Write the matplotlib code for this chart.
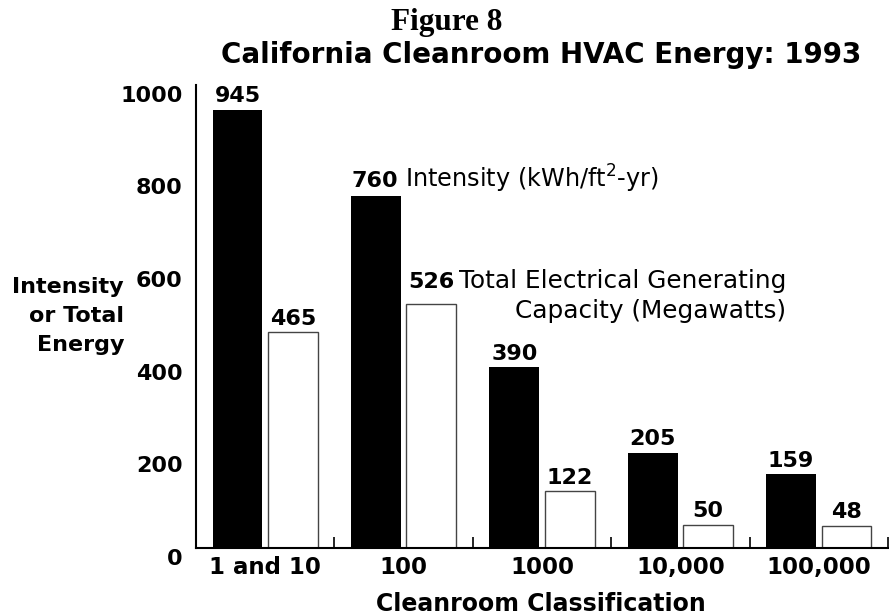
import matplotlib
matplotlib.use("Agg")
import matplotlib.pyplot as plt
import matplotlib.transforms as mtransforms
import numpy as np

categories = ["1 and 10", "100", "1000", "10,000", "100,000"]
intensity = [945, 760, 390, 205, 159]
capacity = [465, 526, 122, 50, 48]
yticks = [0, 200, 400, 600, 800, 1000]
name_intensity = "Intensity (kWh/ft$^{2}$-yr)"
name_capacity = "Total Electrical Generating\nCapacity (Megawatts)"

plt.rcParams['font.family'] = ['DejaVu Sans']

W, H = 889, 616
fig = plt.figure(figsize=(W / 100, H / 100), dpi=100)
ax = fig.add_axes([196 / W, 1 - 548 / H, 692 / W, (548 - 84.5) / H])

x = np.arange(len(categories))
w = 0.36
ax.bar(x + 0.30, intensity, w, color='black', edgecolor='black', linewidth=0)
ax.bar(x + 0.70, capacity, w, color='white', edgecolor='#444444', linewidth=1.0)
ax.set_xlim(0, len(categories))
ax.set_ylim(0, 1000)

for s in ['top', 'right']:
    ax.spines[s].set_visible(False)
for s in ['left', 'bottom']:
    ax.spines[s].set_linewidth(1.5)

ax.set_xticks(x + 0.5)
ax.set_xticklabels(categories, fontweight='bold', fontsize=16.5)
ax.tick_params(axis='x', which='major', length=0, pad=6)
ax.set_xticks(np.arange(1, len(categories) + 1), minor=True)
ax.tick_params(axis='x', which='minor', direction='in', length=8, width=1.2)

ax.set_yticks(yticks)
ax.set_yticklabels([str(t) for t in yticks], fontweight='bold', fontsize=16)
ax.tick_params(axis='y', length=0, pad=9.5)
off = mtransforms.ScaledTranslation(0, -9 / 100, fig.dpi_scale_trans)
for lbl in ax.get_yticklabels():
    lbl.set_transform(lbl.get_transform() + off)

# value labels
for i, v in enumerate(intensity):
    if i == 1:
        continue
    ax.annotate(str(v), (x[i] + 0.30, v), xytext=(0, 5.5), textcoords='offset points',
                ha='center', va='baseline', fontweight='bold', fontsize=16)
for i, v in enumerate(capacity):
    if i == 1:
        continue
    ax.annotate(str(v), (x[i] + 0.70, v), xytext=(0, 5.5), textcoords='offset points',
                ha='center', va='baseline', fontweight='bold', fontsize=16)

# labelled series names next to group 2
t1 = ax.annotate(str(intensity[1]), (x[1] + 0.30 - w / 2, intensity[1]), xytext=(0, 6),
                 textcoords='offset points', ha='left', va='baseline',
                 fontweight='bold', fontsize=16)
ax.annotate(name_intensity, xy=(1, intensity[1]), xycoords=(t1, 'data'), xytext=(5, 6),
            textcoords='offset points', ha='left', va='baseline', fontsize=17.3)

t2 = ax.annotate(str(capacity[1]), (x[1] + 0.70 - w / 2, capacity[1]), xytext=(1, 11.5),
                 textcoords='offset points', ha='left', va='baseline',
                 fontweight='bold', fontsize=16)
ax.annotate(name_capacity, xy=(1, capacity[1]), xycoords=(t2, 'data'), xytext=(3.5, -10),
            textcoords='offset points', ha='left', va='baseline', fontsize=17.8,
            multialignment='right', linespacing=1.33)

# titles and axis labels
fig.text(447 / W, 1 - 30 / H, "Figure 8", ha='center', va='baseline',
         family='Liberation Serif', fontweight='bold', fontsize=22.5)
fig.text(541 / W, 1 - 63 / H, "California Cleanroom HVAC Energy: 1993", ha='center',
         va='baseline', fontweight='bold', fontsize=20)
fig.text(541 / W, 1 - 611 / H, "Cleanroom Classification", ha='center', va='baseline',
         fontweight='bold', fontsize=17)
fig.text(124 / W, 1 - 351 / H, "Intensity\nor Total\nEnergy", ha='right', va='baseline',
         multialignment='right', fontweight='bold', fontsize=16, linespacing=1.55)

fig.savefig("out.png", dpi=100)
